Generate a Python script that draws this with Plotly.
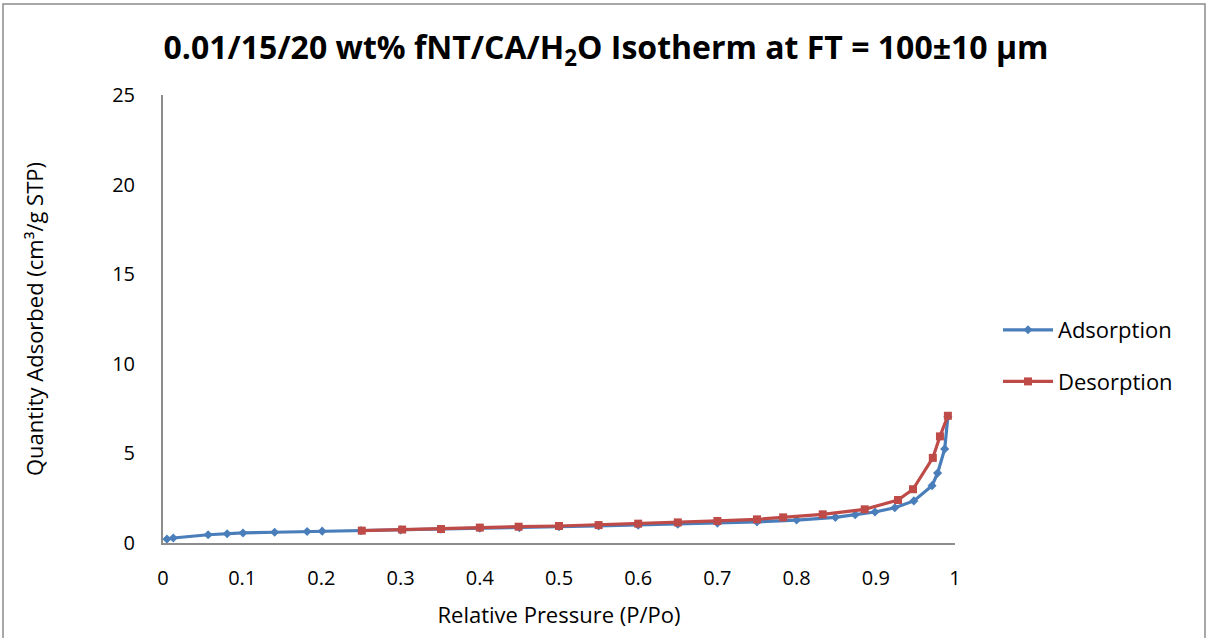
import plotly.graph_objects as go

# Isotherm data: relative pressure (P/Po) vs quantity adsorbed (cm³/g STP)
ads_p = [0.005, 0.013, 0.057, 0.081, 0.101, 0.141, 0.182, 0.201, 0.25, 0.30,
         0.35, 0.40, 0.45, 0.50, 0.55, 0.60, 0.65, 0.70, 0.75, 0.80,
         0.849, 0.874, 0.899, 0.924, 0.948, 0.971, 0.978, 0.987, 0.991]
ads_q = [0.22, 0.28, 0.46, 0.52, 0.56, 0.60, 0.64, 0.66, 0.69, 0.73,
         0.77, 0.82, 0.86, 0.91, 0.95, 1.00, 1.05, 1.11, 1.18, 1.28,
         1.43, 1.58, 1.73, 1.97, 2.35, 3.20, 3.90, 5.25, 7.05]

des_p = [0.991, 0.981, 0.972, 0.947, 0.928, 0.886, 0.833, 0.783, 0.75, 0.70,
         0.65, 0.60, 0.55, 0.50, 0.449, 0.40, 0.351, 0.302, 0.251]
des_q = [7.10, 5.95, 4.75, 3.00, 2.40, 1.88, 1.60, 1.43, 1.32, 1.23,
         1.15, 1.08, 1.00, 0.95, 0.91, 0.86, 0.78, 0.75, 0.69]

x_ticks = [0, 0.1, 0.2, 0.3, 0.4, 0.5, 0.6, 0.7, 0.8, 0.9, 1]
x_tick_text = ["0", "0.1", "0.2", "0.3", "0.4", "0.5", "0.6", "0.7", "0.8", "0.9", "1"]
y_ticks = [0, 5, 10, 15, 20, 25]

FONT = "Open Sans"
BLUE = "#4A7EBB"
RED = "#BE4B48"

fig = go.Figure()
fig.add_trace(go.Scatter(
    x=ads_p, y=ads_q, name="Adsorption", mode="lines+markers",
    line=dict(color=BLUE, width=3.2),
    marker=dict(symbol="diamond", size=7, color=BLUE),
    legendgroup="a",
))
fig.add_trace(go.Scatter(
    x=des_p, y=des_q, name="Desorption", mode="lines+markers",
    line=dict(color=RED, width=3.2),
    marker=dict(symbol="square", size=8, color=RED),
    legendgroup="d",
))

W, H = 1207, 638
L, R, T, B = 163, 252, 95, 95
pw, ph = W - L - R, H - T - B

fig.update_layout(
    width=W, height=H,
    margin=dict(l=L, r=R, t=T, b=B),
    paper_bgcolor="white", plot_bgcolor="white",
    font=dict(family=FONT, color="black", size=20),
    title=dict(
        text="<b>0.01/15/20 wt% fNT/CA/H<sub>2</sub>O Isotherm at FT = 100±10 µm</b>",
        x=606 / W, xanchor="center", y=1 - 48 / H, yanchor="middle",
        font=dict(family=FONT, size=32, color="black"),
    ),
    xaxis=dict(
        range=[0, 1], tickvals=x_ticks, ticktext=x_tick_text,
        showgrid=False, zeroline=False, showline=True, linecolor="#8C8C8C",
        linewidth=2, ticks="", tickfont=dict(size=20), ticklabelstandoff=16,
        title=dict(text="Relative Pressure (P/Po)", font=dict(size=22), standoff=18),
    ),
    yaxis=dict(
        range=[0, 25], tickvals=y_ticks,
        showgrid=False, zeroline=False, showline=True, linecolor="#8C8C8C",
        linewidth=2, ticks="", tickfont=dict(size=20), ticklabelstandoff=22,
        title=dict(text="Quantity Adsorbed (cm³/g STP)", font=dict(size=22), standoff=62),
    ),
    legend=dict(
        x=(998 - L) / pw, xanchor="left",
        y=(H - B - 356) / ph, yanchor="middle",
        font=dict(size=22), bgcolor="rgba(0,0,0,0)",
        tracegroupgap=20, traceorder="grouped", itemwidth=50,
    ),
    shapes=[dict(
        type="rect", xref="paper", yref="paper",
        x0=(3 - L) / pw, x1=(1205 - L) / pw,
        y0=-(B + 20) / ph, y1=(H - B - 4) / ph,
        line=dict(color="#8C8C8C", width=1.5), fillcolor="rgba(0,0,0,0)",
        layer="below",
    )],
)

fig.write_html("out.html")
